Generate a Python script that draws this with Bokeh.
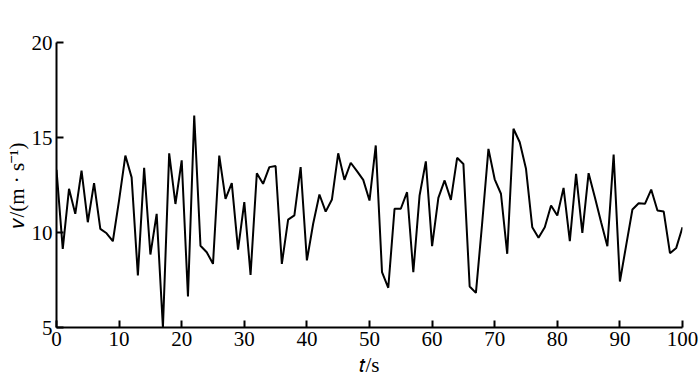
from bokeh.plotting import figure
from bokeh.models import Range1d, FixedTicker
from bokeh.embed import file_html
from bokeh.resources import INLINE

t = list(range(0, 101))
v = [13.3, 9.14, 12.3, 10.98, 13.26, 10.54, 12.6, 10.19, 9.96, 9.54,
     11.7, 14.05, 12.9, 7.74, 13.4, 8.84, 10.98, 5.0, 14.17, 11.5,
     13.8, 6.63, 16.16, 9.3, 8.96, 8.35, 14.05, 11.77, 12.6, 9.1,
     11.6, 7.77, 13.12, 12.56, 13.44, 13.5, 8.35, 10.68, 10.9, 13.44,
     8.53, 10.46, 12.0, 11.1, 11.74, 14.17, 12.77, 13.67, 13.23, 12.77,
     11.68, 14.58, 7.91, 7.09, 11.25, 11.25, 12.12, 7.91, 11.95, 13.74,
     9.28, 11.82, 12.74, 11.72, 13.93, 13.61, 7.16, 6.82, 10.5, 14.4,
     12.8, 12.04, 8.88, 15.46, 14.75, 13.35, 10.28, 9.72, 10.28, 11.42,
     10.89, 12.35, 9.54, 13.09, 9.98, 13.12, 11.86, 10.54, 9.28, 14.1,
     7.42, 9.32, 11.21, 11.54, 11.51, 12.26, 11.16, 11.1, 8.91, 9.19, 10.28]
x_ticks = [0, 10, 20, 30, 40, 50, 60, 70, 80, 90, 100]
y_ticks = [5, 10, 15, 20]
x_label = "\U0001D461/s"
y_label = "\U0001D463/(m \u00b7 s\u207b\u00b9)"

FONT = "Liberation Serif"

p = figure(width=700, height=381, output_backend="svg", toolbar_location=None,
           x_range=Range1d(0, 100), y_range=Range1d(5, 20),
           min_border_left=56, min_border_right=18, min_border_top=42, min_border_bottom=54)
p.outline_line_color = None
p.grid.visible = False
p.background_fill_color = "white"
p.border_fill_color = "white"

p.line(t, v, line_color="black", line_width=2)

for ax, ticks in ((p.xaxis[0], x_ticks), (p.yaxis[0], y_ticks)):
    ax.ticker = FixedTicker(ticks=ticks)
    ax.minor_tick_line_color = None
    ax.major_tick_in = 7
    ax.major_tick_out = 0
    ax.major_tick_line_width = 2
    ax.major_tick_line_color = "black"
    ax.axis_line_width = 2
    ax.axis_line_color = "black"
    ax.major_label_text_font = FONT
    ax.major_label_text_font_size = "21px"
    ax.major_label_text_color = "black"
    ax.major_label_standoff = 4
    ax.axis_label_text_font = FONT
    ax.axis_label_text_font_size = "21px"
    ax.axis_label_text_font_style = "normal"
    ax.axis_label_text_color = "black"
    ax.axis_label_standoff = 0

p.xaxis[0].axis_label = x_label
p.yaxis[0].axis_label = y_label
p.xaxis[0].axis_label_standoff = 4

open("out.html", "w").write(file_html(p, INLINE))
